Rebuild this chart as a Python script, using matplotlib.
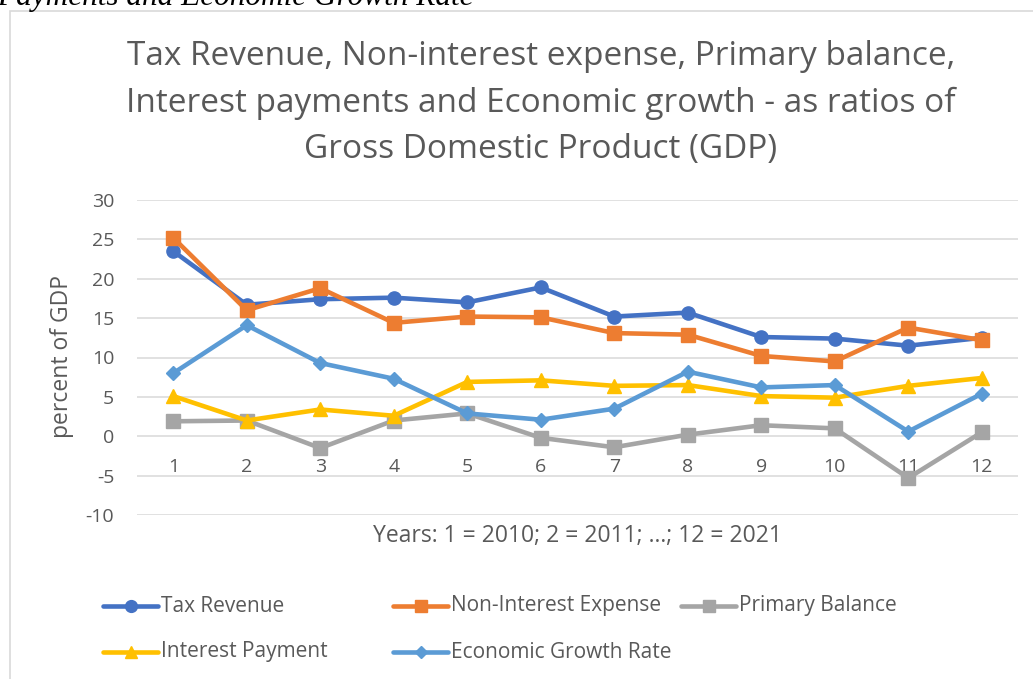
import matplotlib
matplotlib.use("Agg")
import matplotlib.pyplot as plt
from matplotlib.lines import Line2D
from matplotlib.patches import Rectangle

plt.rcParams["axes.unicode_minus"] = False

# ---- data ----
years = [1, 2, 3, 4, 5, 6, 7, 8, 9, 10, 11, 12]
tax_revenue = [23.5, 16.7, 17.4, 17.6, 17.0, 18.9, 15.2, 15.7, 12.6, 12.4, 11.5, 12.5]
non_interest_expense = [25.2, 16.0, 18.8, 14.4, 15.2, 15.1, 13.1, 12.9, 10.2, 9.5, 13.8, 12.2]
primary_balance = [1.9, 2.0, -1.5, 2.0, 2.9, -0.2, -1.4, 0.2, 1.4, 1.0, -5.3, 0.5]
interest_payment = [5.1, 2.0, 3.4, 2.6, 6.9, 7.1, 6.4, 6.5, 5.1, 4.9, 6.4, 7.4]
growth_rate = [8.0, 14.1, 9.3, 7.3, 2.9, 2.1, 3.5, 8.2, 6.2, 6.5, 0.6, 5.4]
series_labels = ["Tax Revenue", "Non-Interest Expense", "Primary Balance",
                 "Interest Payment", "Economic Growth Rate"]
y_ticks = [-10, -5, 0, 5, 10, 15, 20, 25, 30]
title_lines = ["Tax Revenue, Non-interest expense, Primary balance,",
               "Interest payments and Economic growth - as ratios of",
               "Gross Domestic Product (GDP)"]
x_title = "Years: 1 = 2010; 2 = 2011; ...; 12 = 2021"
y_title = "percent of GDP"
caption = "Payments and Economic Growth Rate"

colors = ["#4472C4", "#ED7D31", "#A5A5A5", "#FFC000", "#5B9BD5"]
markers = ["o", "s", "s", "^", "D"]
msizes = [9.5, 10, 10, 10, 7]
TXT = "#595959"
FONT = "Open Sans"

W, H = 1033, 679
fig = plt.figure(figsize=(W / 100, H / 100), dpi=100)

def fx(px):
    return px / W

def fy(py):
    return 1 - py / H

# chart border
fig.add_artist(Rectangle((fx(9.5), fy(700)), fx(1100), fy(11.5) - fy(700),
                         transform=fig.transFigure, fill=False,
                         edgecolor="#D9D9D9", linewidth=1.2))

# cut-off caption at top
fig.text(fx(-3), fy(5), caption, family="Liberation Serif", style="italic",
         fontsize=22.5, color="black", va="baseline", ha="left")

ax = fig.add_axes([fx(136.5), fy(515), fx(1018.5) - fx(136.5), fy(200) - fy(515)])
ax.set_xlim(0.5, 12.5)
ax.set_ylim(-10, 30)
ax.set_yticks(y_ticks)
ax.set_xticks(years)
ax.grid(axis="y", color="#D9D9D9", linewidth=1.1)
ax.set_axisbelow(True)
for s in ax.spines.values():
    s.set_visible(False)
ax.spines["bottom"].set_position(("data", 0))
ax.tick_params(axis="both", length=0, labelsize=14, labelcolor=TXT)
ax.tick_params(axis="y", pad=16)
ax.tick_params(axis="x", pad=16)
for lab in ax.get_xticklabels() + ax.get_yticklabels():
    lab.set_family(FONT)

all_series = [tax_revenue, non_interest_expense, primary_balance,
              interest_payment, growth_rate]
for vals, c, m, ms, lab in zip(all_series, colors, markers, msizes, series_labels):
    ax.plot(years, vals, color=c, linewidth=3.3, marker=m, markersize=ms,
            markerfacecolor=c, markeredgecolor=c, label=lab, zorder=3,
            solid_joinstyle="round", solid_capstyle="round")

# titles
for line, py in zip(title_lines, [65, 112, 158]):
    fig.text(fx(541), fy(py), line, family=FONT, fontsize=24, color=TXT,
             ha="center", va="baseline")

fig.text(fx(577.5), fy(542), x_title, family=FONT, fontsize=16.5, color=TXT,
         ha="center", va="baseline")
fig.text(fx(62), fy(357), y_title, family=FONT, fontsize=16.5, color=TXT,
         ha="center", va="center", rotation=90)

# legend (manual layout like Excel)
leg_pos = [(103, 606), (393, 606), (681, 606), (103, 652), (393, 652)]
leg_ms = [8.5, 9, 9, 8.5, 6.5]
for (px, py), c, m, ms, lab in zip(leg_pos, colors, markers, leg_ms, series_labels):
    fig.add_artist(Line2D([fx(px), fx(px + 55)], [fy(py), fy(py)],
                          transform=fig.transFigure, color=c, linewidth=3.3,
                          solid_capstyle="round"))
    fig.add_artist(Line2D([fx(px + 27.5)], [fy(py)], transform=fig.transFigure,
                          marker=m, markersize=ms, color=c, markeredgecolor=c))
    fig.text(fx(px + 58), fy(py), lab, family=FONT, fontsize=15, color=TXT,
             ha="left", va="center")

fig.savefig("out.png", dpi=100)
